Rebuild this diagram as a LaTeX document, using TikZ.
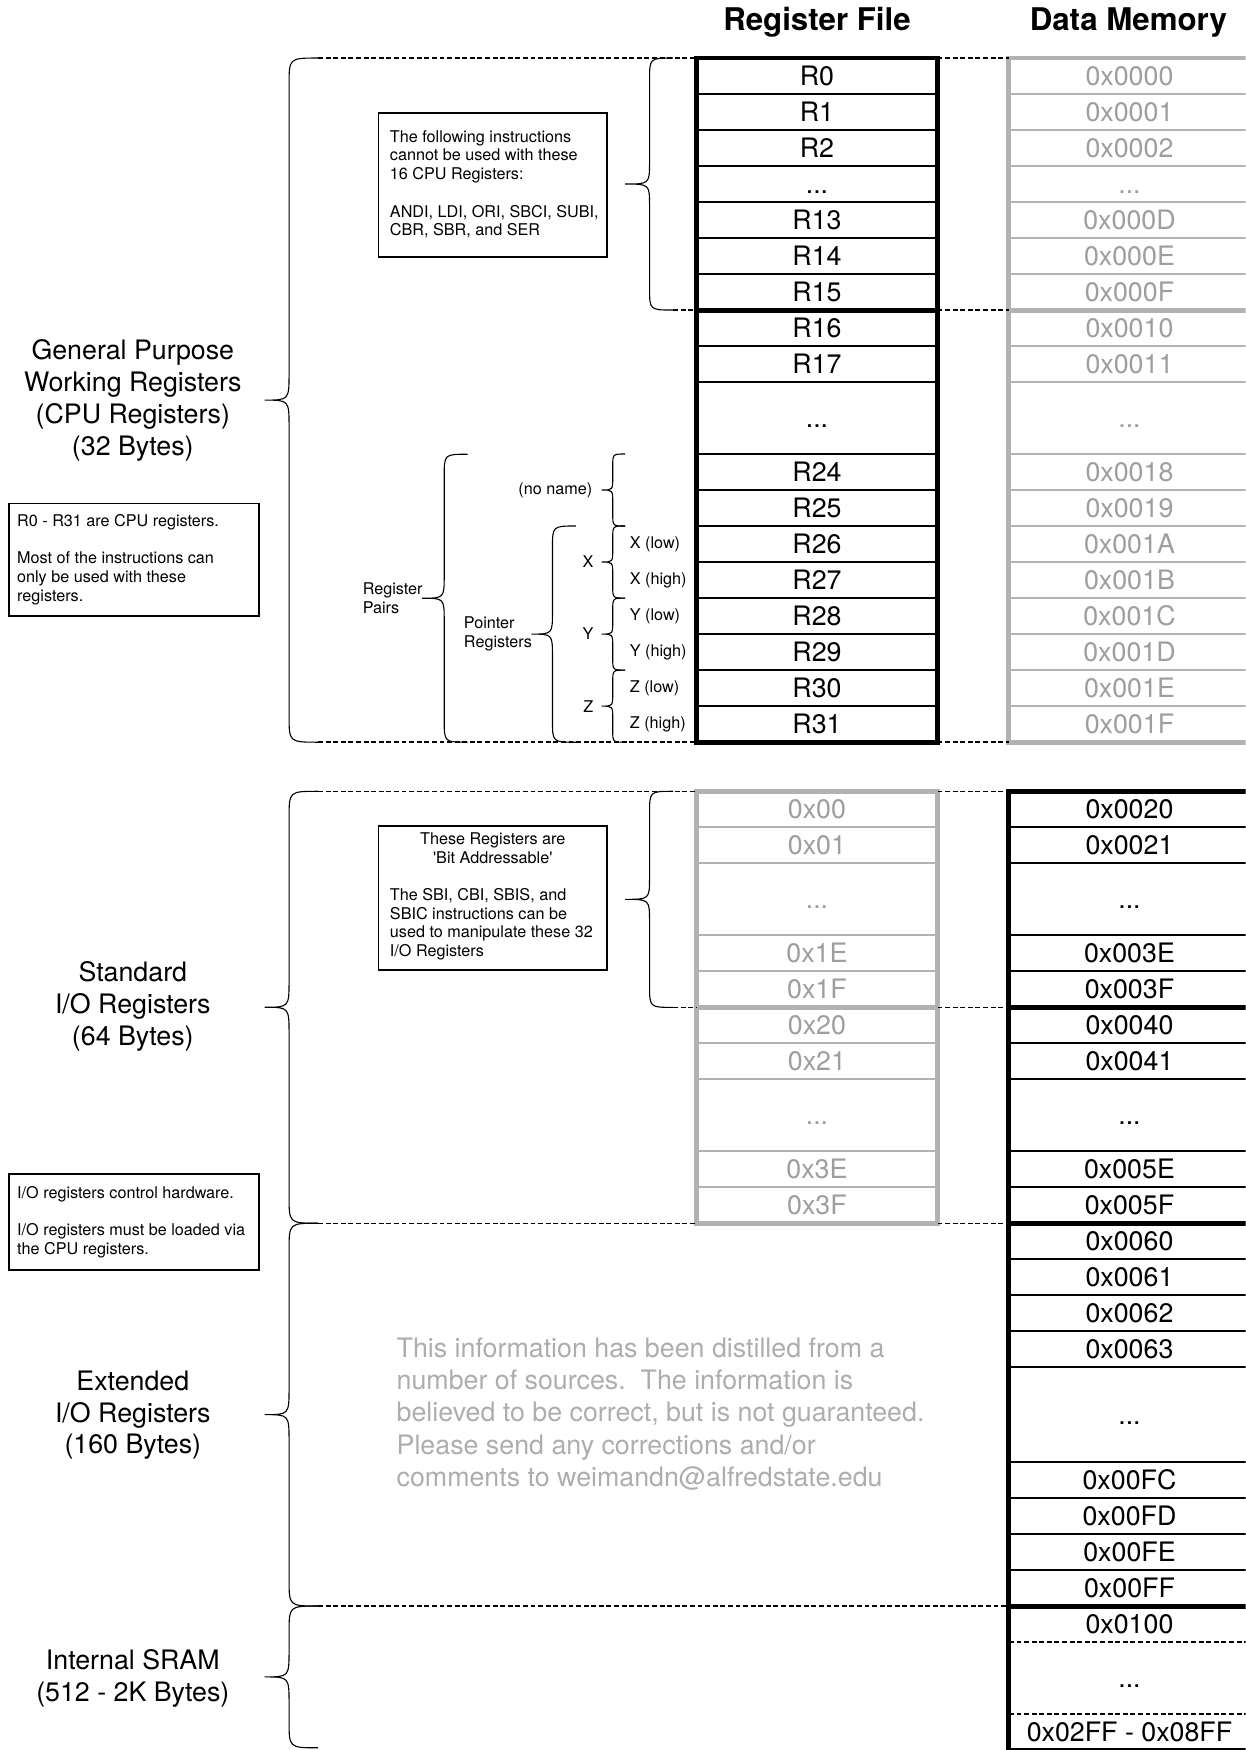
\documentclass[tikz,border=0pt]{standalone}
\usepackage{fontspec}
\setmainfont{TeX Gyre Heros}[Ligatures=TeXOff]
\definecolor{gtxt}{gray}{0.62}
\definecolor{gln}{gray}{0.70}
\definecolor{wtxt}{gray}{0.68}
\newcommand\ddd{...}
\def\h{32.26}
% curly brace pointing left: #1 spine x, #2 end x, #3 tip x, #4 top y, #5 bottom y, #6 curl
\newcommand\curlybr[6]{%
  \draw[bracel] (#2,#4) .. controls (#1,#4) .. (#1,{#4+#6})
    -- (#1,{(#4+#5)/2-#6}) .. controls (#1,{(#4+#5)/2}) .. (#3,{(#4+#5)/2})
    .. controls (#1,{(#4+#5)/2}) .. (#1,{(#4+#5)/2+#6})
    -- (#1,{#5-#6}) .. controls (#1,#5) .. (#2,#5);}
\begin{document}
\begin{tikzpicture}[x=0.5pt,y=-0.5pt,
  cellt/.style={font=\fontsize{12}{14}\selectfont, text height=8.6pt, text depth=0pt, inner sep=0pt},
  gcell/.style={cellt, text=gtxt},
  title/.style={font=\fontsize{14}{16}\selectfont\bfseries, inner sep=0pt},
  biglabel/.style={font=\fontsize{12}{14.3}\selectfont, align=center, inner sep=0pt},
  small/.style={font=\fontsize{7.25}{8.4}\selectfont, inner sep=0pt},
  notebox/.style={draw, line width=0.75pt, inner sep=0pt},
  rowline/.style={line width=0.9pt},
  growline/.style={line width=0.9pt, draw=gln},
  frame/.style={line width=2.2pt},
  gframe/.style={line width=2.2pt, draw=gln},
  dline/.style={line width=0.7pt, dash pattern=on 2.2pt off 1.2pt},
  bracel/.style={line width=0.5pt},
]
\useasboundingbox (0,0) rectangle (1116,1568);
\clip (0,0) rectangle (1116,1568);

% titles
\node[title] (trf) at (732,20) {Register File};
\node[title] (tdm) at (1011,20) {Data Memory};

% ---------- section 1 : register file (black) ----------
\foreach \k in {1,2,3,4,5,6,8,9,11,12,13,14,15,16,17,18}
  \draw[rowline] (624,{52+\k*\h}) -- (840,{52+\k*\h});
\draw[frame] (624,{52+7*\h}) -- (840,{52+7*\h});
\draw[frame] (624,52) rectangle (840,{52+19*\h});
\foreach \c/\t [count=\i] in {0.5/R0,1.5/R1,2.5/R2,3.5/\ddd,4.5/R13,5.5/R14,6.5/R15,7.5/R16,8.5/R17,10/\ddd,11.5/R24,12.5/R25,13.5/R26,14.5/R27,15.5/R28,16.5/R29,17.5/R30,18.5/R31}
  \node[cellt] (rf\i) at (732,{52+\c*\h}) {\t};

% ---------- section 1 : data memory (grey) ----------
\foreach \k in {1,2,3,4,5,6,8,9,11,12,13,14,15,16,17,18}
  \draw[growline] (904,{52+\k*\h}) -- (1120,{52+\k*\h});
\draw[gframe] (904,{52+7*\h}) -- (1120,{52+7*\h});
\draw[gframe] (904,52) rectangle (1120,{52+19*\h});
\foreach \c/\t [count=\i] in {0.5/0x0000,1.5/0x0001,2.5/0x0002,3.5/\ddd,4.5/0x000D,5.5/0x000E,6.5/0x000F,7.5/0x0010,8.5/0x0011,10/\ddd,11.5/0x0018,12.5/0x0019,13.5/0x001A,14.5/0x001B,15.5/0x001C,16.5/0x001D,17.5/0x001E,18.5/0x001F}
  \node[gcell] (dm\i) at (1012,{52+\c*\h}) {\t};

% ---------- section 2 : I/O register file (grey) ----------
\foreach \k in {1,2,4,5,7,8,10,11}
  \draw[growline] (624,{709+\k*\h}) -- (840,{709+\k*\h});
\draw[gframe] (624,{709+6*\h}) -- (840,{709+6*\h});
\draw[gframe] (624,709) rectangle (840,{709+12*\h});
\foreach \c/\t [count=\i] in {0.5/0x00,1.5/0x01,3/\ddd,4.5/0x1E,5.5/0x1F,6.5/0x20,7.5/0x21,9/\ddd,10.5/0x3E,11.5/0x3F}
  \node[gcell] (io\i) at (732,{709+\c*\h}) {\t};

% ---------- section 2 : data memory (black) ----------
\foreach \k in {1,2,4,5,7,8,10,11,13,14,15,16,18.63,19.63,20.63,21.63}
  \draw[rowline] (904,{709+\k*\h}) -- (1120,{709+\k*\h});
\foreach \k in {23.63,25.63}
  \draw[dline] (904,{709+\k*\h}) -- (1120,{709+\k*\h});
\foreach \k in {6,12,22.63}
  \draw[frame] (904,{709+\k*\h}) -- (1120,{709+\k*\h});
\draw[frame] (904,709) rectangle (1120,{709+26.63*\h});
\foreach \c/\t [count=\i] in {0.5/0x0020,1.5/0x0021,3/\ddd,4.5/0x003E,5.5/0x003F,6.5/0x0040,7.5/0x0041,9/\ddd,10.5/0x005E,11.5/0x005F,12.5/0x0060,13.5/0x0061,14.5/0x0062,15.5/0x0063,17.32/\ddd,19.13/0x00FC,20.13/0x00FD,21.13/0x00FE,22.13/0x00FF,23.13/0x0100,24.63/\ddd,26.13/0x02FF - 0x08FF}
  \node[cellt] (dd\i) at (1012,{709+\c*\h}) {\t};

% ---------- dashed boundary lines ----------
\draw[dline] (285,52) -- (624,52);
\draw[dline] (840,52) -- (904,52);
\draw[dline] (603,{52+7*\h}) -- (624,{52+7*\h});
\draw[dline] (840,{52+7*\h}) -- (904,{52+7*\h});
\draw[dline] (285,665) -- (624,665);
\draw[dline] (840,665) -- (904,665);
\draw[dline] (285,709) -- (624,709);
\draw[dline] (840,709) -- (904,709);
\draw[dline] (603,{709+6*\h}) -- (624,{709+6*\h});
\draw[dline] (840,{709+6*\h}) -- (904,{709+6*\h});
\draw[dline] (285,{709+12*\h}) -- (624,{709+12*\h});
\draw[dline] (840,{709+12*\h}) -- (904,{709+12*\h});
\draw[dline] (285,{709+22.63*\h}) -- (904,{709+22.63*\h});

% ---------- braces ----------
\curlybr{259}{285}{237}{52}{665}{24}
\curlybr{259}{285}{237}{709}{1096}{24}
\curlybr{259}{285}{237}{1096}{1439}{24}
\curlybr{259}{285}{237}{1439}{1566}{24}
\curlybr{582}{603}{560}{52}{277.8}{20}
\curlybr{582}{603}{560}{709}{902.6}{20}
\curlybr{398}{419}{378}{407}{665}{20}
\curlybr{495}{516}{476}{471.3}{665}{20}
\curlybr{549}{560}{539}{406.8}{471.3}{11}
\curlybr{549}{560}{539}{471.3}{535.9}{11}
\curlybr{549}{560}{539}{535.9}{600.4}{11}
\curlybr{549}{560}{539}{600.4}{665}{11}

% ---------- brace labels ----------
\node[small, anchor=east] (lnn) at (531,439) {(no name)};
\node[small, anchor=east] (lx) at (532,503.6) {X};
\node[small, anchor=east] (ly) at (532,568.1) {Y};
\node[small, anchor=east] (lz) at (532,632.7) {Z};
\node[small, anchor=west] (lxl) at (564,487.5) {X (low)};
\node[small, anchor=west] (lxh) at (564,519.8) {X (high)};
\node[small, anchor=west] (lyl) at (564,552.1) {Y (low)};
\node[small, anchor=west] (lyh) at (564,584.3) {Y (high)};
\node[small, anchor=west] (lzl) at (564,616.6) {Z (low)};
\node[small, anchor=west] (lzh) at (564,648.9) {Z (high)};
\node[small, anchor=east, align=left] (lrp) at (379,536) {Register\\Pairs};
\node[small, anchor=east, align=left] (lpr) at (477,568) {Pointer\\Registers};

% ---------- left labels ----------
\node[biglabel] (lgp) at (119,359) {General Purpose\\Working Registers\\(CPU Registers)\\(32 Bytes)};
\node[biglabel] (lsio) at (119,902) {Standard\\I/O Registers\\(64 Bytes)};
\node[biglabel] (leio) at (119,1268) {Extended\\I/O Registers\\(160 Bytes)};
\node[biglabel] (lsram) at (119,1504) {Internal SRAM\\(512 - 2K Bytes)};

% ---------- note boxes ----------
\node[notebox, minimum width=112pt, minimum height=50.5pt] (nb0) at (120,501.5) {};
\node[small, anchor=west, align=left] (nb0t) at (15,501.5) {R0 - R31 are CPU registers.\\[8.4pt]Most of the instructions can\\only be used with these\\registers.};

\node[notebox, minimum width=112pt, minimum height=43pt] (nb3) at (120,1095) {};
\node[small, anchor=west, align=left] (nb3t) at (15,1095) {I/O registers control hardware.\\[8.4pt]I/O registers must be loaded via\\the CPU registers.};

\node[notebox, minimum width=102.5pt, minimum height=64.5pt] (nb1) at (441.5,165.5) {};
\node[small, anchor=west, align=left] (nb1t) at (349,165) {The following instructions\\cannot be used with these\\16 CPU Registers:\\[8.4pt]ANDI, LDI, ORI, SBCI, SUBI,\\CBR, SBR, and SER};

\node[notebox, minimum width=102.5pt, minimum height=64.5pt] (nb2) at (441.5,804.5) {};
\node[small, align=center] (nb2a) at (441.5,760) {These Registers are\\'Bit Addressable'};
\node[small, anchor=west, align=left] (nb2b) at (349,828) {The SBI, CBI, SBIS, and\\SBIC instructions can be\\used to manipulate these 32\\I/O Registers};

% ---------- disclaimer ----------
\node[font=\fontsize{12}{14.4}\selectfont, text=wtxt, align=left, anchor=west, inner sep=0pt] (note) at (355,1267)
  {This information has been distilled from a\\number of sources.\ \ The information is\\believed to be correct, but is not guaranteed.\\Please send any corrections and/or\\comments to weimandn@alfredstate.edu};
\end{tikzpicture}
\end{document}
